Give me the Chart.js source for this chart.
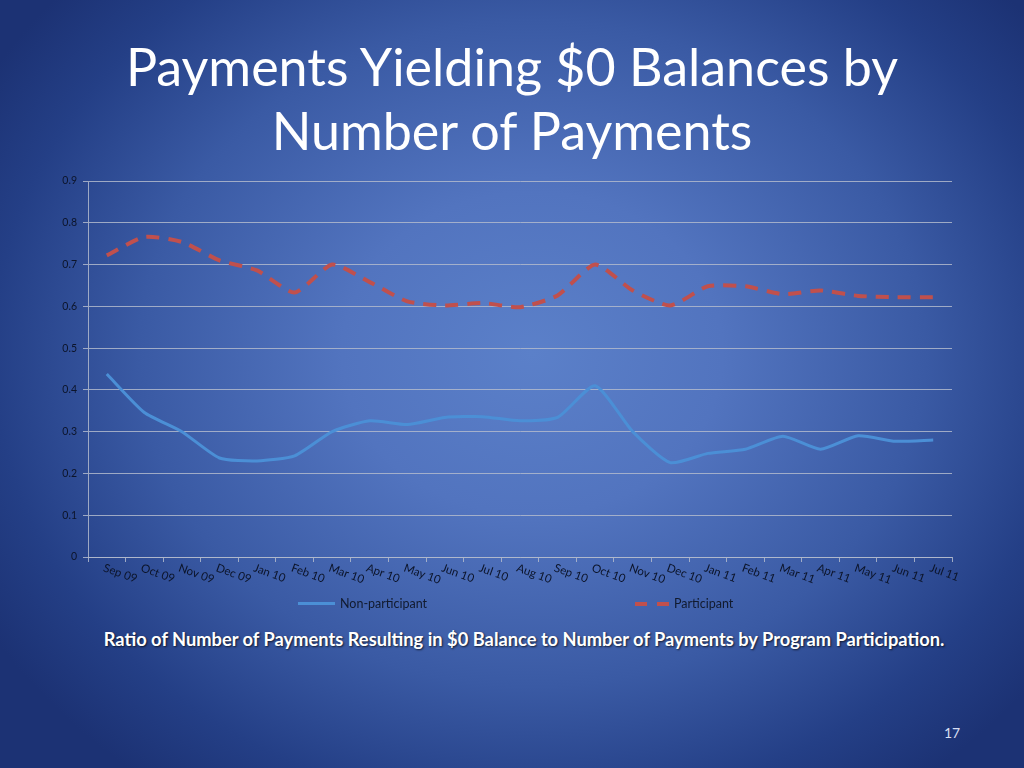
<!DOCTYPE html>
<html>
<head>
<meta charset="utf-8">
<title>Payments Yielding $0 Balances by Number of Payments</title>
<script src="https://cdn.jsdelivr.net/npm/chart.js@4/dist/chart.umd.min.js"></script>
<style>
  html, body { margin: 0; padding: 0; }
  body {
    width: 1024px; height: 768px; overflow: hidden; position: relative;
    background: radial-gradient(ellipse 62% 70% at 52% 46%, #5b80c9 0%, #5274bf 30%, #3a5aa4 62%, #243f86 85%, #1c3274 100%);
    font-family: Lato, "Open Sans", sans-serif;
  }
  #title {
    position: absolute; left: 0; top: 34px; width: 1024px; text-align: center;
    color: #fff; font-size: 52px; line-height: 64px;
  }
  #chartBox { position: absolute; left: 0; top: 160px; width: 1024px; height: 440px; }
  #legend {
    position: absolute; top: 596px; left: 0; width: 1024px; height: 18px;
    font-size: 12.5px; color: #111a2e;
  }
  .item { position: absolute; top: 0; display: flex; align-items: center; }
  .swatch { width: 37px; height: 3px; margin-right: 5px; }
  #caption {
    position: absolute; left: 0; top: 628px; width: 1048px; text-align: center;
    color: #fff; font-size: 18.3px; font-weight: bold;
    text-shadow: 1px 1px 2px rgba(0,0,0,0.7);
  }
  #pageNo { position: absolute; left: 944px; top: 724px; color: #d6def2; font-size: 14px; }
</style>
</head>
<body>
<div id="title">Payments Yielding $0 Balances by<br>Number of Payments</div>
<div id="chartBox"><canvas id="chartLines"></canvas></div>
<div id="legend">
  <div class="item" style="left:298px"><span class="swatch" style="background:#4b8fd6"></span>Non-participant</div>
  <div class="item" style="left:635px"><span class="swatch" style="width:34px;height:4px;background:linear-gradient(to right,#c0504d 0,#c0504d 12px,transparent 12px,transparent 22px,#c0504d 22px)"></span>Participant</div>
</div>
<div id="caption">Ratio of Number of Payments Resulting in $0 Balance to Number of Payments by Program Participation.</div>
<div id="pageNo">17</div>

<script>
var months = ["Sep 09", "Oct 09", "Nov 09", "Dec 09", "Jan 10", "Feb 10", "Mar 10", "Apr 10",
    "May 10", "Jun 10", "Jul 10", "Aug 10", "Sep 10", "Oct 10", "Nov 10", "Dec 10",
    "Jan 11", "Feb 11", "Mar 11", "Apr 11", "May 11", "Jun 11", "Jul 11"];

var nonParticipant = [0.438, 0.346, 0.300, 0.237, 0.230, 0.242, 0.300, 0.326, 0.317, 0.334, 0.336, 0.326,
    0.334, 0.410, 0.300, 0.226, 0.248, 0.258, 0.289, 0.258, 0.290, 0.277, 0.280];

var participant = [0.722, 0.766, 0.754, 0.710, 0.686, 0.633, 0.700, 0.658, 0.612, 0.602, 0.608, 0.598,
    0.626, 0.700, 0.638, 0.602, 0.648, 0.648, 0.629, 0.638, 0.625, 0.622, 0.622];

var yTicks = [0, 0.1, 0.2, 0.3, 0.4, 0.5, 0.6, 0.7, 0.8, 0.9];

var gridColor = 'rgba(178, 186, 205, 0.85)';

// month labels slope down to the right, which the category axis can't do on its own
var slantedLabels = {
    id: 'slantedLabels',
    afterDraw: function (chart) {
        var x = chart.scales.x;
        var ctx = chart.ctx;
        ctx.save();
        ctx.font = '11.5px Lato, "Open Sans", sans-serif';
        ctx.fillStyle = '#0c1429';
        ctx.textAlign = 'left';
        ctx.textBaseline = 'top';
        months.forEach(function (m, i) {
            ctx.save();
            ctx.translate(x.getPixelForValue(i) - 1, x.top + 5);
            ctx.rotate(20 * Math.PI / 180);
            ctx.fillText(m, 0, 0);
            ctx.restore();
        });
        ctx.restore();
    }
};

new Chart(document.getElementById('chartLines'), {
    type: 'line',
    data: {
        labels: months,
        datasets: [{
            label: 'Non-participant',
            data: nonParticipant,
            borderColor: '#4b8fd6',
            borderWidth: 3,
            pointRadius: 0,
            tension: 0.2
        }, {
            label: 'Participant',
            data: participant,
            borderColor: '#c0504d',
            borderWidth: 4,
            borderDash: [13, 9],
            pointRadius: 0,
            tension: 0.2
        }]
    },
    options: {
        responsive: true,
        maintainAspectRatio: false,
        animation: false,
        layout: { padding: { left: 0, right: 72, top: 21, bottom: 38 } },
        plugins: {
            legend: { display: false },
            tooltip: { enabled: false }
        },
        scales: {
            x: {
                offset: true,
                grid: { drawOnChartArea: false, color: gridColor, tickLength: 5, offset: true },
                border: { color: gridColor },
                ticks: { display: false }
            },
            y: {
                min: 0,
                max: 0.9,
                afterFit: function (s) { s.width = 88; },
                afterBuildTicks: function (s) {
                    s.ticks = yTicks.map(function (v) { return { value: v }; });
                },
                grid: { color: gridColor, tickLength: 5 },
                border: { color: gridColor },
                ticks: {
                    color: '#0c1429',
                    font: { family: 'Lato, "Open Sans", sans-serif', size: 10.5 },
                    padding: 6,
                    callback: function (v) { return String(Number(v.toFixed(1))); }
                }
            }
        }
    },
    plugins: [slantedLabels]
});
</script>
</body>
</html>
